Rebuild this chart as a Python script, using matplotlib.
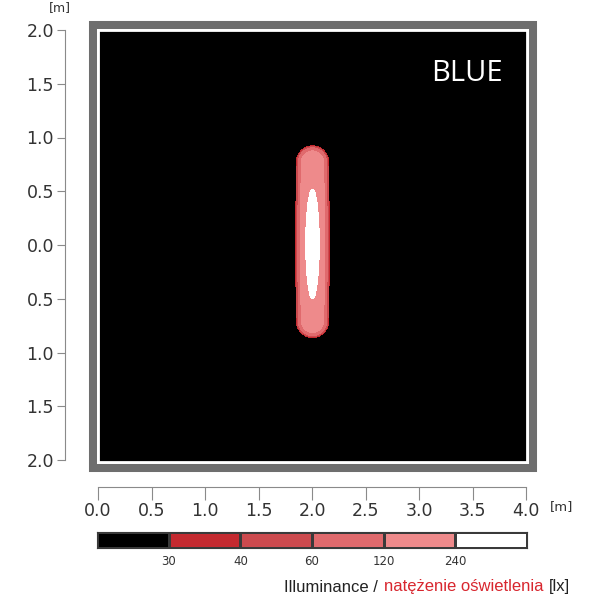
import numpy as np
import matplotlib.pyplot as plt
from matplotlib.colors import ListedColormap
from matplotlib.patches import Rectangle
from matplotlib.offsetbox import TextArea, HPacker, AnchoredOffsetbox

# diffuse panel of the lamp: columns (x) with their half-lengths along y
panel_x = [1.89, 1.91, 1.93, 1.95, 1.97, 1.99, 2.01, 2.03, 2.05, 2.07, 2.09, 2.11]
panel_half = [0.788, 0.819, 0.837, 0.849, 0.856, 0.86,
              0.86, 0.856, 0.849, 0.837, 0.819, 0.788]
panel_yc = 0.04
panel_lum = 180
panel_h = 0.06

# direct beam along the centre line, in 0.1 m segments
beam_edges = [-0.68, -0.58, -0.48, -0.38, -0.28, -0.18, -0.08, 0.02,
              0.12, 0.22, 0.32, 0.42, 0.52, 0.62, 0.72]
beam_power = [12, 40, 95, 160, 230, 290, 330, 330, 290, 230, 160, 95, 40, 12]
beam_x = 2.0
beam_h = 0.07

levels = [30, 40, 60, 120, 240]
band_colors = ["#000000", "#c42a30", "#cc4a4e", "#e06a6d", "#ee8a8b", "#ffffff"]
y_ticks = [-2.0, -1.5, -1.0, -0.5, 0.0, 0.5, 1.0, 1.5, 2.0]
x_ticks = [0.0, 0.5, 1.0, 1.5, 2.0, 2.5, 3.0, 3.5, 4.0]


def line_int(t, u2):
    # integral of dt / (u2 + t^2)^3
    u = np.sqrt(u2)
    s = u2 + t ** 2
    return t / (4 * u2 * s ** 2) + 3 * t / (8 * u2 ** 2 * s) + 3 / (8 * u ** 5) * np.arctan(t / u)


def line_source(X, Y, x0, y0, y1, h):
    u2 = (X - x0) ** 2 + h ** 2
    return h ** 6 * (line_int(y1 - Y, u2) - line_int(y0 - Y, u2))


W = 600.0
fig = plt.figure(figsize=(6, 6), dpi=100)
plt.rcParams['font.family'] = 'DejaVu Sans'
txt = "#333333"
axis_col = "#8a8a8a"

# illuminance map
ax = fig.add_axes([98 / W, 138 / W, 429 / W, 432 / W])
ax.set_facecolor("black")
gx = np.linspace(0, 4, 700)
gy = np.linspace(-2, 2, 700)
X, Y = np.meshgrid(gx, gy)
E = np.zeros_like(X)
dxc = panel_x[1] - panel_x[0]
for cx, hl in zip(panel_x, panel_half):
    E += panel_lum * dxc * line_source(X, Y, cx, panel_yc - hl, panel_yc + hl, panel_h) / (np.pi * panel_h ** 2 / 2)
for k in range(len(beam_power)):
    E += beam_power[k] * line_source(X, Y, beam_x, beam_edges[k], beam_edges[k + 1], beam_h) / (3 * np.pi * beam_h / 8)
ax.contourf(X, Y, E, levels=[0] + levels + [1e9], colors=band_colors)
ax.set_xlim(0, 4)
ax.set_ylim(-2, 2)
ax.set_xticks([])
ax.set_yticks([])
for s in ax.spines.values():
    s.set_color("white")
    s.set_linewidth(2.0)
frame = Rectangle((-5.5 / 429, -5.5 / 432), 1 + 11 / 429, 1 + 11 / 432,
                  transform=ax.transAxes, fill=False, edgecolor="#6e6e6e",
                  linewidth=5.8, clip_on=False)
ax.add_patch(frame)
ax.text(0.86, 0.9, "BLUE", transform=ax.transAxes, color="white",
        fontsize=21, family="Open Sans", ha="center", va="center")

# left scale
ay = fig.add_axes([65 / W, 140 / W, 0.0001, 430 / W])
ay.set_ylim(-2, 2)
ay.set_yticks(y_ticks)
ay.set_yticklabels([f"{abs(v):.1f}" for v in y_ticks])
ay.set_xticks([])
for k in ["right", "top", "bottom"]:
    ay.spines[k].set_visible(False)
ay.spines["left"].set_color(axis_col)
ay.tick_params(axis="y", direction="out", length=6, color=axis_col,
               labelcolor=txt, labelsize=12.5, pad=2)
fig.text(60 / W, 1 - 8 / W, "[m]", fontsize=9, color=txt, ha="center", va="center")

# bottom scale
axx = fig.add_axes([98 / W, 113 / W, 428 / W, 0.0001])
axx.set_xlim(0, 4)
axx.set_xticks(x_ticks)
axx.set_xticklabels([f"{v:.1f}" for v in x_ticks])
axx.set_yticks([])
for k in ["left", "right", "top"]:
    axx.spines[k].set_visible(False)
axx.spines["bottom"].set_color(axis_col)
axx.tick_params(axis="x", direction="out", length=9, color=axis_col,
                labelcolor=txt, labelsize=12.5, pad=2)
fig.text(562 / W, 1 - 507 / W, "[m]", fontsize=9.5, color=txt, ha="center", va="center")

# legend bar
ac = fig.add_axes([97 / W, 52 / W, 430 / W, 16 / W])
ac.pcolormesh(np.arange(7), [0, 1], [np.arange(6)], cmap=ListedColormap(band_colors),
              edgecolors="#3a3a3a", linewidth=0.8, vmin=-0.5, vmax=5.5)
ac.set_xlim(0, 6)
ac.set_ylim(0, 1)
ac.set_yticks([])
ac.set_xticks(np.arange(1, 6))
ac.set_xticklabels([str(v) for v in levels])
ac.tick_params(axis="x", length=0, labelsize=8.5, labelcolor=txt, pad=5)
for s in ac.spines.values():
    s.set_color("#3a3a3a")
    s.set_linewidth(0.8)

tp = dict(fontsize=12, family="Liberation Sans")
parts = [TextArea("Illuminance /", textprops=dict(color="#222222", **tp)),
         TextArea("natężenie oświetlenia", textprops=dict(color="#d8262e", **tp)),
         TextArea("[lx]", textprops=dict(color="#222222", **tp))]
box = HPacker(children=parts, align="baseline", pad=0, sep=4)
anch = AnchoredOffsetbox(loc="center right", child=box, pad=0, frameon=False,
                         bbox_to_anchor=(570 / W, 1 - 587 / W), bbox_transform=fig.transFigure,
                         borderpad=0)
fig.add_artist(anch)

fig.savefig("out.png", dpi=100)
